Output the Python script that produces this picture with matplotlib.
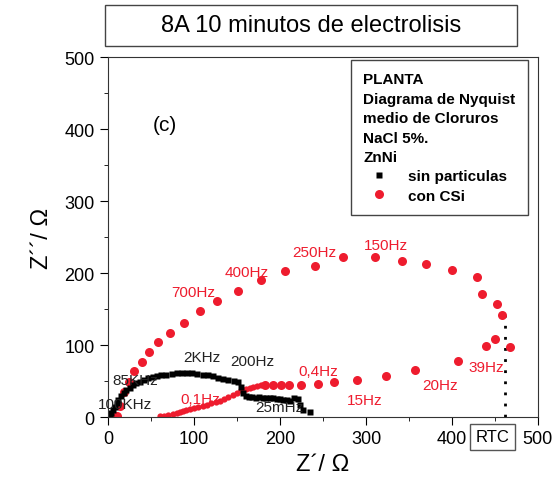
import matplotlib.pyplot as plt
from matplotlib.patches import Rectangle
from matplotlib.ticker import MultipleLocator

plt.rcParams['font.family'] = ['Liberation Sans', 'DejaVu Sans']

# sin particulas (black squares)
sin_x = [2, 4, 6, 8, 10, 12, 15, 18, 21, 25, 29, 33, 37, 42, 47, 52, 57, 62, 68, 74,
         80, 86, 92, 98, 104, 110, 116, 122, 128, 134, 140, 146, 151, 155, 157, 160,
         164, 168, 172, 176, 180, 184, 188, 192, 196, 200, 204, 208, 212, 216, 221,
         223, 227, 235]
sin_y = [3, 6, 10, 14, 19, 24, 29, 33, 37, 41, 44, 47, 49, 52, 54, 56, 57, 58, 59, 60,
         61, 61, 61, 61, 60, 59, 58, 57, 55, 53, 51, 50, 49, 42, 33, 29,
         28, 28, 27, 28, 27, 27, 26, 26, 25, 25, 24, 24, 23, 26, 25,
         17, 10, 7]

# con CSi, dense low-frequency arc (small red dots)
csi_low_x = [60, 65, 70, 75, 80, 84, 87, 91, 95, 100, 105, 110, 115, 120, 125, 130, 135,
             140, 145, 150, 155, 160, 165, 169, 173, 178]
csi_low_y = [1, 2, 3, 4, 6, 7, 9, 10, 11, 12, 14, 15, 17, 19, 21, 23, 25,
             28, 31, 34, 37, 39, 41, 42, 43, 44]

# con CSi, main points (large red dots)
csi_x = [10, 14, 19, 24, 30, 40, 48, 58, 72, 88, 107, 127, 151, 178, 206, 241, 273, 310,
         342, 370, 400, 429, 435, 452, 458, 467, 450, 440, 407, 357, 323, 290, 263, 244,
         224, 210, 201, 192, 183]
csi_y = [1, 15, 35, 49, 64, 76, 90, 104, 117, 131, 147, 161, 175, 190, 203, 210, 222, 222,
         217, 212, 204, 194, 171, 157, 142, 97, 108, 99, 78, 65, 57, 51, 49, 46,
         45, 44, 44, 44, 44]

rtc_x = 462
rtc_top = 142

black_labels = [('100KHz', -12, 18), ('85KHz', 5, 51), ('2KHz', 87, 83),
                ('200Hz', 142, 78), ('25mHz', 171, 14)]
red_labels = [('0,1Hz', 84, 25), ('0,4Hz', 221, 64), ('15Hz', 278, 24), ('20Hz', 365, 44),
              ('39Hz', 419, 69), ('150Hz', 297, 239), ('250Hz', 214, 229),
              ('400Hz', 136, 201), ('700Hz', 74, 174)]

red = '#ee1c2e'

fig = plt.figure(figsize=(5.54, 4.89), dpi=100)
ax = fig.add_axes([0.195, 0.145, 0.776, 0.736])

ax.plot([rtc_x, rtc_x], [0, rtc_top], color='black', linestyle=(0, (1, 3)), linewidth=2)
ax.plot(csi_low_x, csi_low_y, 'o', color=red, ms=4.5, mec='none')
ax.plot(csi_x, csi_y, 'o', color=red, ms=6.5, mec='none', label='con CSi')
ax.plot(sin_x, sin_y, 's', color='black', ms=4.5, mec='none', label='sin particulas')

for txt, x, y in black_labels:
    ax.text(x, y, txt, color='#222222', fontsize=11, va='center', ha='left')
for txt, x, y in red_labels:
    ax.text(x, y, txt, color=red, fontsize=11, va='center', ha='left')

ax.text(66, 407, '(c)', fontsize=15, ha='center', va='center')

ax.set_xlim(0, 500)
ax.set_ylim(0, 500)
ax.xaxis.set_major_locator(MultipleLocator(100))
ax.yaxis.set_major_locator(MultipleLocator(100))
ax.xaxis.set_minor_locator(MultipleLocator(50))
ax.yaxis.set_minor_locator(MultipleLocator(50))
ax.tick_params(which='major', direction='out', length=6, labelsize=13, top=False, right=False)
ax.tick_params(which='minor', direction='out', length=3, top=False, right=False)
for s in ax.spines.values():
    s.set_color('#333333')

ax.set_xlabel('Z\u00b4/ \u03a9', fontsize=17, labelpad=4)
ax.set_ylabel('Z\u00b4\u00b4/ \u03a9', fontsize=17, labelpad=8)

# RTC boxed label below the axis
ax.text(447, -0.055, 'RTC', transform=ax.get_xaxis_transform(), fontsize=12,
        ha='center', va='center',
        bbox=dict(boxstyle='square,pad=0.35', fc='white', ec='#555555', lw=1))

handles, labels = ax.get_legend_handles_labels()
leg = ax.legend(handles[::-1], labels[::-1],
                title='PLANTA\nDiagrama de Nyquist\nmedio de Cloruros\nNaCl 5%.\nZnNi',
                loc='upper right', bbox_to_anchor=(0.994, 1.014), alignment='left',
                prop={'weight': 'bold', 'size': 11},
                title_fontproperties={'weight': 'bold', 'size': 11},
                fancybox=False, edgecolor='#444444', framealpha=1,
                handletextpad=0.9, borderpad=0.8, labelspacing=0.35)
leg.get_title().set_linespacing(1.5)
leg.get_frame().set_linewidth(1)

# title box
fig.patches.append(Rectangle((105 / 554, 1 - 47 / 489), 412 / 554, 41 / 489,
                             transform=fig.transFigure, fill=False,
                             edgecolor='#444444', linewidth=1))
fig.text(311 / 554, 1 - 26.5 / 489, '8A 10 minutos de electrolisis', fontsize=17,
         ha='center', va='center')

fig.savefig('out.png', dpi=100)
